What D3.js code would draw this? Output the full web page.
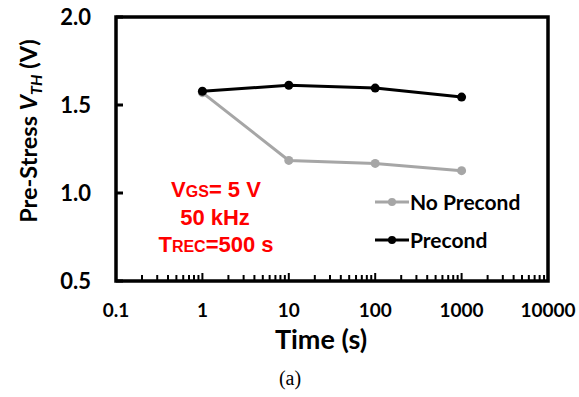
<!DOCTYPE html>
<html>
<head>
<meta charset="utf-8">
<script src="https://cdn.jsdelivr.net/npm/d3@7"></script>
<style>
  body { margin: 0; background: #fff; }
  .lbl { font-family: Lato, "Open Sans", sans-serif; font-weight: bold; }
  .ann { font-family: "Liberation Sans", Arial, sans-serif; font-weight: bold; }
</style>
</head>
<body>
<div id="chart"></div>
<script>
var times = [1, 10, 100, 1000]
var noPrecond = [1.57, 1.185, 1.168, 1.127]
var precond = [1.578, 1.612, 1.596, 1.545]
var xTicks = [0.1, 1, 10, 100, 1000, 10000]
var yTicks = [0.5, 1.0, 1.5, 2.0]

var width = 579, height = 397
var margin = { top: 17, left: 116, right: 31, bottom: 116 }

var svg = d3.select("#chart")
  .append("svg")
  .attr("width", width)
  .attr("height", height)

var x = d3.scaleLog()
  .domain([0.1, 10000])
  .range([margin.left, width - margin.right])

var y = d3.scaleLinear()
  .domain([0.5, 2.0])
  .range([height - margin.bottom, margin.top])

// frame
svg.append("rect")
  .attr("x", x(0.1))
  .attr("y", y(2.0))
  .attr("width", x(10000) - x(0.1))
  .attr("height", y(0.5) - y(2.0))
  .attr("fill", "none")
  .attr("stroke", "#000")
  .attr("stroke-width", 3.5)

// minor ticks on the log axis
var minor = []
for (var e = -1; e < 4; e++) {
  for (var k = 2; k <= 10; k++) minor.push(k * Math.pow(10, e))
}

var y0 = y(0.5)
svg.append("g")
  .selectAll("line")
  .data(minor)
  .enter().append("line")
  .attr("x1", function(d) { return x(d) })
  .attr("x2", function(d) { return x(d) })
  .attr("y1", y0)
  .attr("y2", function(d, i) { return (i % 9 == 8) ? y0 - 8 : y0 - 6 })
  .attr("stroke", "#000")
  .attr("stroke-width", 2)

// y ticks (inside)
svg.append("g")
  .selectAll("line")
  .data(yTicks)
  .enter().append("line")
  .attr("x1", x(0.1))
  .attr("x2", x(0.1) + 7)
  .attr("y1", function(d) { return y(d) })
  .attr("y2", function(d) { return y(d) })
  .attr("stroke", "#000")
  .attr("stroke-width", 3)

// tick labels
svg.append("g")
  .selectAll("text")
  .data(xTicks)
  .enter().append("text")
  .attr("class", "lbl")
  .attr("x", function(d) { return x(d) })
  .attr("y", 317)
  .attr("text-anchor", "middle")
  .attr("font-size", 19)
  .text(function(d) { return d })

svg.append("g")
  .selectAll("text")
  .data(yTicks)
  .enter().append("text")
  .attr("class", "lbl")
  .attr("x", 91)
  .attr("y", function(d) { return y(d) + 7.5 })
  .attr("text-anchor", "end")
  .attr("font-size", 22)
  .text(function(d) { return d.toFixed(1) })

// axis titles
svg.append("text")
  .attr("class", "lbl")
  .attr("x", 321)
  .attr("y", 349)
  .attr("text-anchor", "middle")
  .attr("font-size", 27)
  .text("Time (s)")

var yt = svg.append("text")
  .attr("class", "lbl")
  .attr("transform", "translate(37,131) rotate(-90)")
  .attr("text-anchor", "middle")
  .attr("font-size", 23.5)
yt.append("tspan").text("Pre-Stress ")
yt.append("tspan").attr("font-style", "italic").text("V")
yt.append("tspan").attr("font-style", "italic").attr("font-size", 16).attr("dy", 5).text("TH")
yt.append("tspan").attr("dy", -5).text(" (V)")

svg.append("text")
  .attr("x", 290)
  .attr("y", 385)
  .attr("text-anchor", "middle")
  .attr("font-size", 20)
  .style("font-family", "'Liberation Serif', serif")
  .text("(a)")

// lines
var line = d3.line()
  .x(function(d) { return x(d[0]) })
  .y(function(d) { return y(d[1]) })

var series = [
  { name: "No Precond", values: noPrecond, color: "#a6a6a6" },
  { name: "Precond", values: precond, color: "#000" }
]

series.forEach(function(s) {
  var pts = times.map(function(t, i) { return [t, s.values[i]] })
  svg.append("path")
    .datum(pts)
    .attr("d", line)
    .attr("fill", "none")
    .attr("stroke", s.color)
    .attr("stroke-width", 3)
  svg.selectAll(null)
    .data(pts)
    .enter().append("circle")
    .attr("cx", function(d) { return x(d[0]) })
    .attr("cy", function(d) { return y(d[1]) })
    .attr("r", 4.5)
    .attr("fill", s.color)
})

// legend
series.forEach(function(s, i) {
  var ly = 202 + i * 38
  svg.append("line")
    .attr("x1", 375).attr("x2", 409)
    .attr("y1", ly).attr("y2", ly)
    .attr("stroke", s.color).attr("stroke-width", 3)
  svg.append("circle")
    .attr("cx", 392).attr("cy", ly).attr("r", 4)
    .attr("fill", s.color)
  svg.append("text")
    .attr("class", "lbl")
    .attr("x", 410).attr("y", ly + 7.5)
    .attr("font-size", 21)
    .text(s.name)
})

// annotation
var ann = svg.append("g")
  .attr("fill", "#ff0000")
  .attr("font-size", 22)
  .attr("text-anchor", "middle")

var a1 = ann.append("text").attr("class", "ann").attr("x", 216).attr("y", 197)
a1.append("tspan").text("V")
a1.append("tspan").attr("font-size", 16).text("GS")
a1.append("tspan").text("= 5 V")

ann.append("text").attr("class", "ann").attr("x", 215).attr("y", 225).text("50 kHz")

var a3 = ann.append("text").attr("class", "ann").attr("x", 216).attr("y", 252)
a3.append("tspan").text("T")
a3.append("tspan").attr("font-size", 16).text("REC")
a3.append("tspan").text("=500 s")
</script>
</body>
</html>
